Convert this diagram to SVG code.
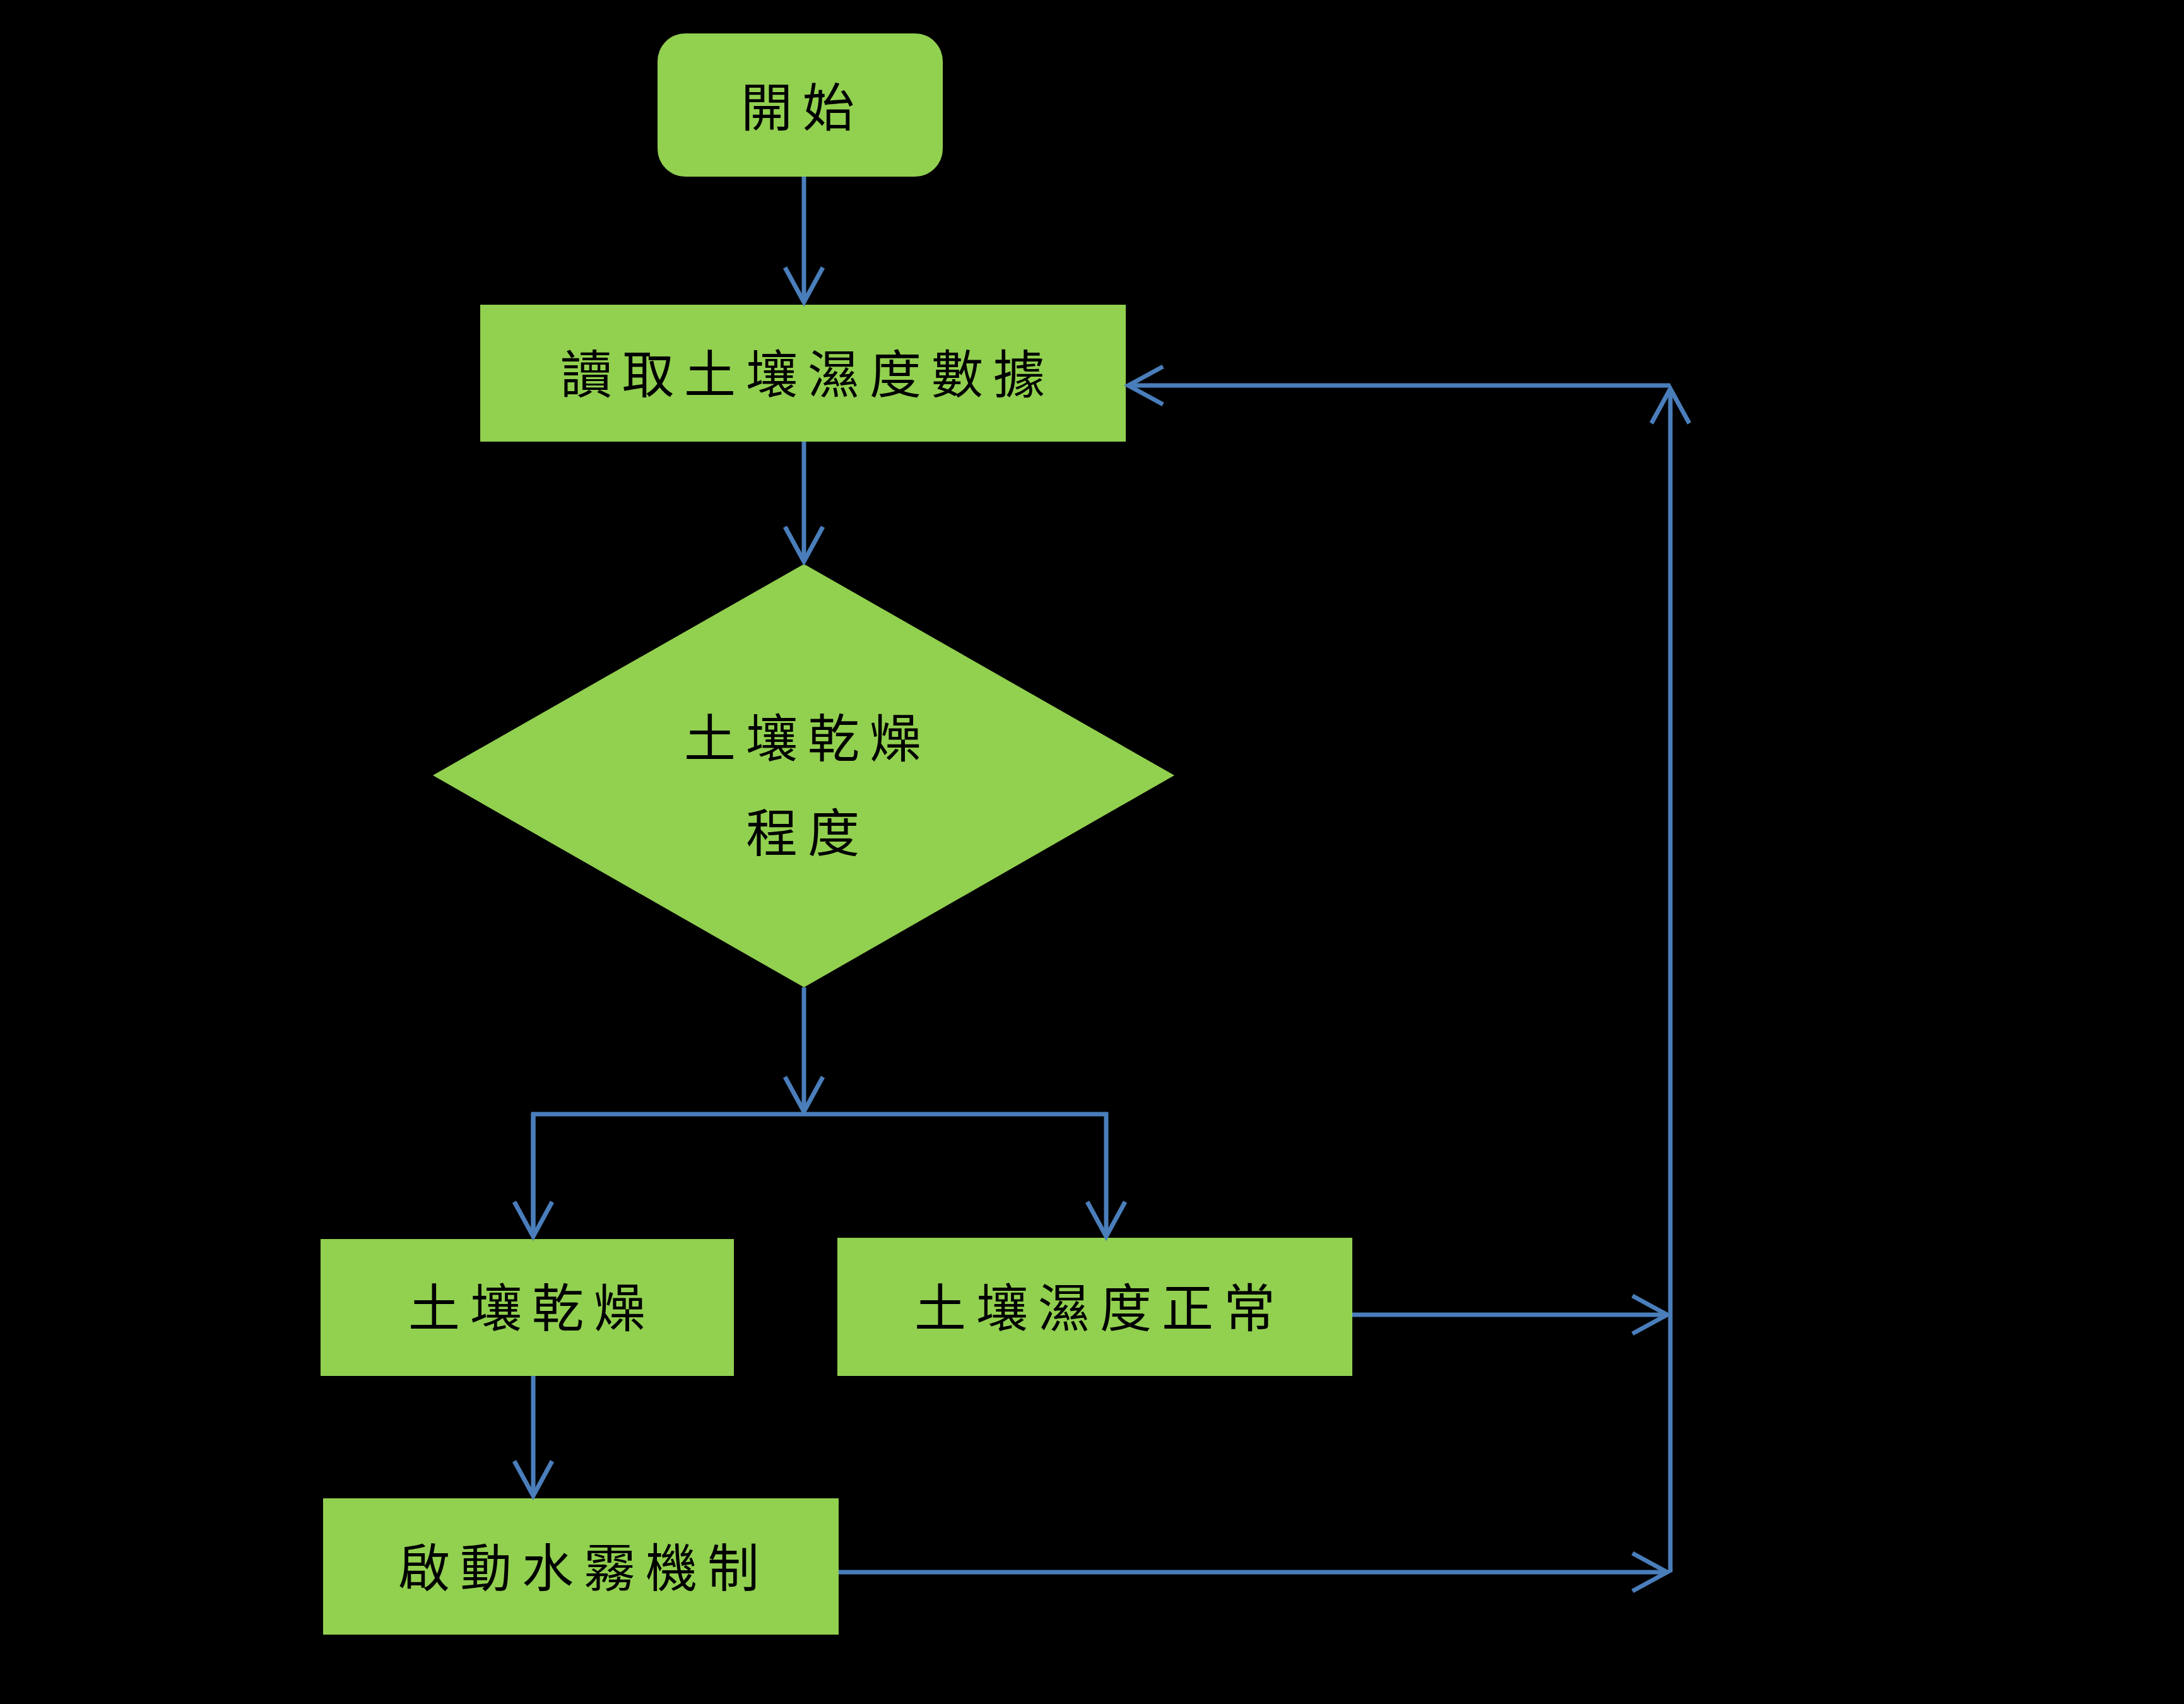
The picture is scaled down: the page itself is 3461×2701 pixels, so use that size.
<svg xmlns="http://www.w3.org/2000/svg" width="3461" height="2701" viewBox="0 0 3461 2701">
<style>
.n{fill:#92d050;}
.t{font-family:"Liberation Serif","Noto Sans CJK TC",serif;font-size:82px;fill:#000;text-anchor:middle;dominant-baseline:central;letter-spacing:16px;}
.c{fill:none;stroke:#4a7ebb;stroke-width:7;}
</style>
<defs>
<marker id="a" markerUnits="userSpaceOnUse" markerWidth="80" markerHeight="80" viewBox="-70 -40 80 80" refX="0" refY="0" orient="auto">
<path d="M-55,-30 L0,0 L-55,30" fill="none" stroke="#4a7ebb" stroke-width="7"/>
</marker>
</defs>
<rect width="3461" height="2701" fill="#000"/>
<g id="start"><rect class="n" x="1042" y="53" width="452" height="227" rx="44"/><text class="t" x="1272" y="172">開始</text></g>
<g id="read"><rect class="n" x="761" y="483" width="1023" height="217"/><text class="t" x="1280" y="595">讀取土壤濕度數據</text></g>
<g id="decision"><polygon class="n" points="686,1229 1274,894 1861,1229 1274,1565"/><text class="t" x="1280" y="1172">土壤乾燥</text><text class="t" x="1280" y="1322">程度</text></g>
<g id="dry"><rect class="n" x="508" y="1964" width="655" height="217"/><text class="t" x="843" y="2075">土壤乾燥</text></g>
<g id="normal"><rect class="n" x="1327" y="1962" width="816" height="219"/><text class="t" x="1743" y="2075">土壤濕度正常</text></g>
<g id="mist"><rect class="n" x="512" y="2375" width="817" height="216"/><text class="t" x="925" y="2487">啟動水霧機制</text></g>
<g id="connectors">
<line class="c" x1="1274" y1="280" x2="1274" y2="479" marker-end="url(#a)"/>
<line class="c" x1="1274" y1="700" x2="1274" y2="890" marker-end="url(#a)"/>
<line class="c" x1="1274" y1="1565" x2="1274" y2="1762" marker-end="url(#a)"/>
<polyline class="c" points="845,1960 845,1766 1753,1766 1753,1960" marker-start="url(#a)" marker-end="url(#a)" style="marker-start:none"/>
<line class="c" x1="845" y1="1766" x2="845" y2="1960" marker-end="url(#a)"/>
<line class="c" x1="845" y1="2181" x2="845" y2="2371" marker-end="url(#a)"/>
<line class="c" x1="2143" y1="2084" x2="2642" y2="2084" marker-end="url(#a)"/>
<line class="c" x1="1329" y1="2492" x2="2642" y2="2492" marker-end="url(#a)"/>
<line class="c" x1="2647" y1="2492" x2="2647" y2="616" marker-end="url(#a)"/>
<line class="c" x1="2647" y1="611" x2="1788" y2="611" marker-end="url(#a)"/>
</g>
</svg>
